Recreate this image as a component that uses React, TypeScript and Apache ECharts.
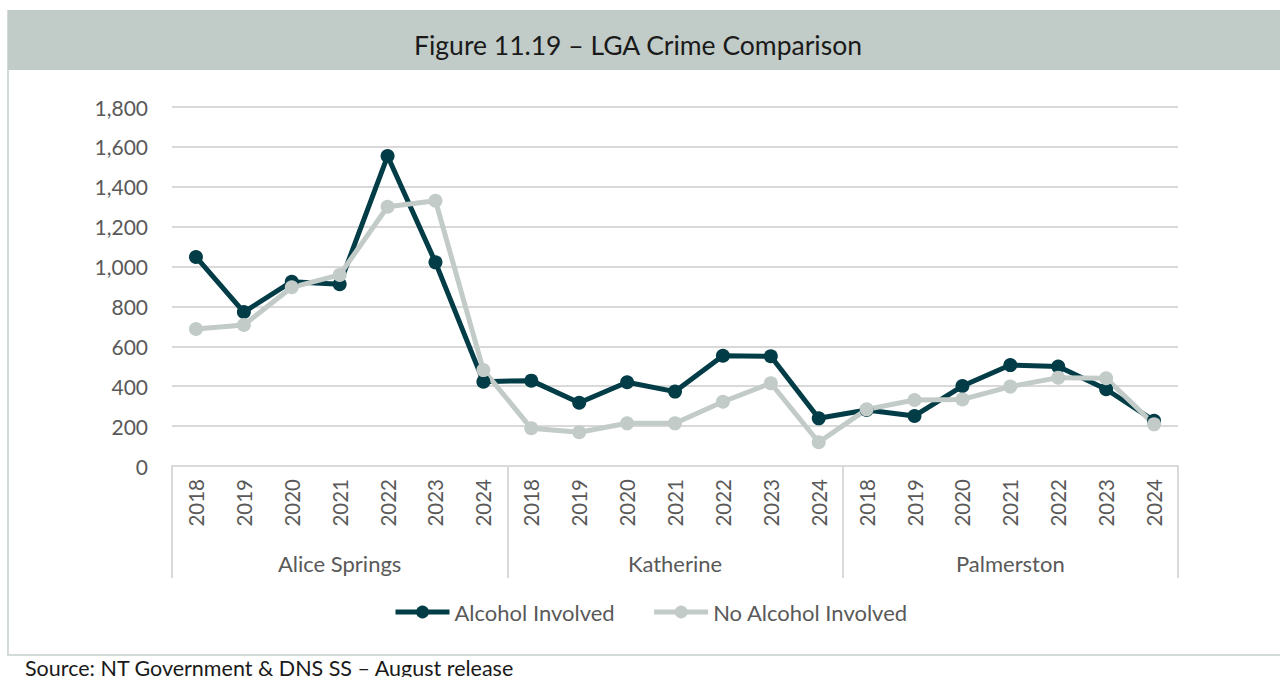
import React, { useEffect, useRef } from "react";
import * as echarts from "echarts";

const years = ["2018", "2019", "2020", "2021", "2022", "2023", "2024"];
const regions = ["Alice Springs", "Katherine", "Palmerston"];
const categories: string[] = regions.flatMap(() => years);

const alcoholInvolved = [
  1048, 772, 924, 911, 1554, 1021, 423,
  428, 317, 420, 373, 553, 550, 239,
  281, 251, 401, 506, 499, 385, 227,
];
const noAlcoholInvolved = [
  687, 707, 896, 958, 1300, 1330, 481,
  189, 169, 214, 214, 322, 415, 119,
  284, 331, 334, 398, 443, 440, 209,
];

const yTicks = { min: 0, max: 1800, interval: 200 };

const DARK = "#023d47";
const LIGHT = "#c2cbc7";
const TEXT = "#595959";
const GRID = "#d9d9d9";
const FONT = "Lato, 'Noto Sans', sans-serif";

export default function App() {
  const ref = useRef<HTMLDivElement>(null);
  useEffect(() => {
    document.body.style.margin = "0";
    if (!ref.current) return;
    const chart = echarts.init(ref.current, undefined, { renderer: "svg" });
    chart.setOption({
      animation: false,
      backgroundColor: "#ffffff",
      textStyle: { fontFamily: FONT },
      graphic: [
        {
          type: "rect",
          z: -10,
          shape: { x: 8, y: 11, width: 1280, height: 644 },
          style: { fill: "none", stroke: "#d3dbd8", lineWidth: 2 },
        },
        {
          type: "rect",
          z: -9,
          shape: { x: 8, y: 10, width: 1280, height: 60 },
          style: { fill: "#c1cbc7" },
        },
        {
          type: "text",
          x: 638,
          y: 45,
          style: {
            text: "Figure 11.19 – LGA Crime Comparison",
            fontFamily: FONT,
            fontSize: 26.5,
            fill: "#1a1a1a",
            align: "center",
            verticalAlign: "middle",
          },
        },
        {
          type: "text",
          x: 25,
          y: 657,
          style: {
            text: "Source: NT Government & DNS SS – August release",
            fontFamily: FONT,
            fontSize: 21.5,
            fill: "#1a1a1a",
            align: "left",
            verticalAlign: "top",
          },
        },
      ],
      grid: { left: 172, right: 102, top: 107, bottom: 211, containLabel: false },
      legend: {
        left: 388,
        top: 596,
        itemWidth: 54,
        itemHeight: 16,
        itemGap: 37,
        lineStyle: { width: 5 },
        textStyle: { fontSize: 22, color: TEXT, fontFamily: FONT },
        data: ["Alcohol Involved", "No Alcohol Involved"],
      },
      xAxis: [
        {
          type: "category",
          data: categories,
          boundaryGap: true,
          axisLine: { show: true, lineStyle: { color: GRID, width: 2 } },
          axisTick: { show: false },
          axisLabel: {
            rotate: 90,
            interval: 0,
            margin: 13,
            fontSize: 20.5,
            color: TEXT,
            fontFamily: FONT,
          },
        },
        {
          type: "category",
          data: regions,
          position: "bottom",
          boundaryGap: true,
          axisLine: { show: false },
          axisTick: { show: true, length: 112, lineStyle: { color: GRID, width: 2 } },
          axisLabel: {
            interval: 0,
            margin: 86,
            fontSize: 22,
            color: TEXT,
            fontFamily: FONT,
          },
        },
      ],
      yAxis: {
        type: "value",
        min: yTicks.min,
        max: yTicks.max,
        interval: yTicks.interval,
        axisLine: { show: false },
        axisTick: { show: false },
        splitLine: { lineStyle: { color: GRID, width: 2 } },
        axisLabel: {
          margin: 24,
          fontSize: 21,
          color: TEXT,
          fontFamily: FONT,
          formatter: (v: number) => v.toLocaleString("en-US"),
        },
      },
      series: [
        {
          name: "Alcohol Involved",
          type: "line",
          data: alcoholInvolved,
          symbol: "circle",
          symbolSize: 14,
          lineStyle: { color: DARK, width: 5 },
          itemStyle: { color: DARK },
        },
        {
          name: "No Alcohol Involved",
          type: "line",
          data: noAlcoholInvolved,
          symbol: "circle",
          symbolSize: 14,
          lineStyle: { color: LIGHT, width: 5 },
          itemStyle: { color: LIGHT },
        },
      ],
    });
    return () => chart.dispose();
  }, []);
  return <div ref={ref} style={{ width: 1280, height: 677 }} />;
}
